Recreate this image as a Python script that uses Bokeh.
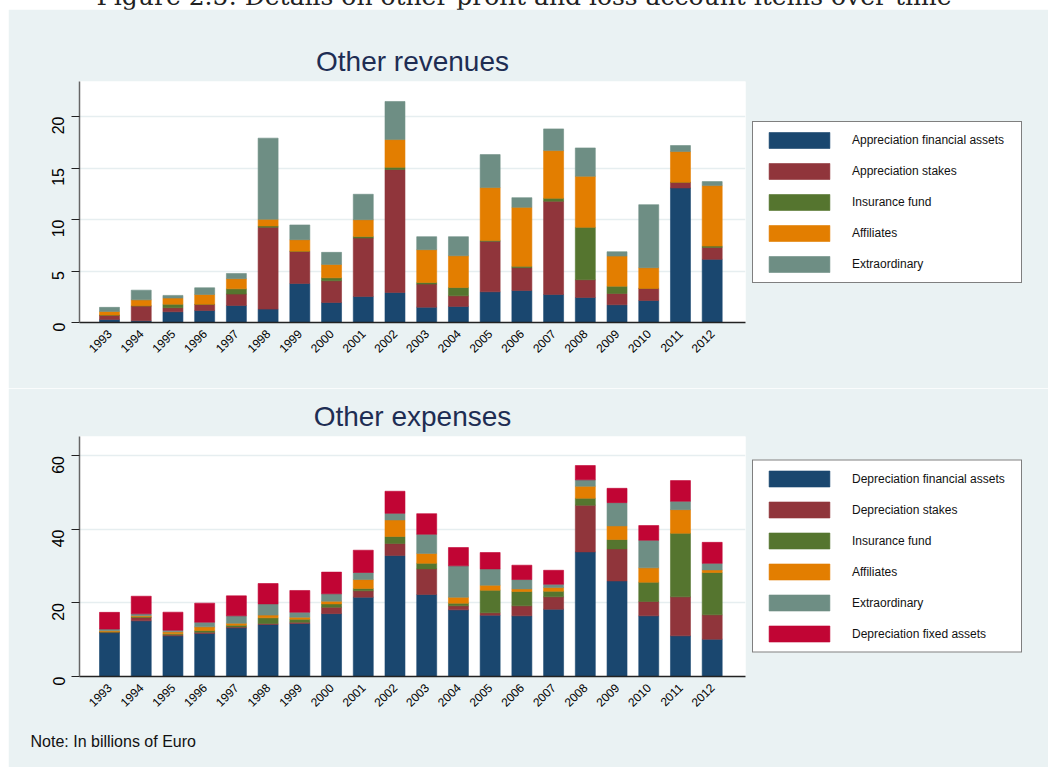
import math
from bokeh.plotting import figure
from bokeh.models import (ColumnDataSource, Range1d, FixedTicker, Legend, LegendItem,
                          Title, Div)
from bokeh.layouts import column
from bokeh.embed import file_html
from bokeh.resources import INLINE

years = list(range(1993, 2013))

rev_labels = ["Appreciation financial assets", "Appreciation stakes", "Insurance fund",
              "Affiliates", "Extraordinary"]
rev_fin = [0.30, 0.16, 1.04, 1.17, 1.65, 1.30, 3.79, 1.94, 2.53, 2.92, 1.49, 1.56, 2.98, 3.11, 2.72, 2.43, 1.72, 2.14, 13.06, 6.13]
rev_stakes = [0.40, 1.46, 0.39, 0.58, 1.11, 7.94, 3.11, 2.11, 5.67, 11.93, 2.24, 1.03, 4.90, 2.21, 9.05, 1.72, 1.10, 1.17, 0.55, 1.16]
rev_ins = [0.02, 0.00, 0.35, 0.02, 0.51, 0.13, 0.03, 0.29, 0.16, 0.22, 0.16, 0.81, 0.09, 0.13, 0.29, 5.09, 0.71, 0.00, 0.00, 0.13]
rev_aff = [0.35, 0.58, 0.59, 0.95, 0.98, 0.65, 1.11, 1.30, 1.62, 2.69, 3.18, 3.08, 5.13, 5.73, 4.63, 4.96, 2.92, 2.01, 2.99, 5.87]
rev_extra = [0.40, 0.94, 0.26, 0.65, 0.51, 7.88, 1.43, 1.17, 2.47, 3.70, 1.26, 1.85, 3.20, 0.94, 2.11, 2.75, 0.42, 6.12, 0.58, 0.39]

exp_labels = ["Depreciation financial assets", "Depreciation stakes", "Insurance fund",
              "Affiliates", "Extraordinary", "Depreciation fixed assets"]
exp_fin = [11.90, 15.14, 11.06, 11.70, 13.24, 14.14, 14.40, 17.10, 21.58, 32.90, 22.30, 18.13, 16.68, 16.50, 18.31, 33.90, 26.00, 16.50, 11.06, 10.15]
exp_stakes = [0.15, 0.90, 0.27, 0.36, 0.26, 0.26, 0.38, 1.76, 1.72, 3.27, 6.98, 1.09, 0.64, 2.72, 3.36, 12.70, 8.70, 3.90, 10.61, 6.62]
exp_ins = [0.15, 0.20, 0.27, 0.45, 0.46, 1.56, 0.82, 0.90, 0.63, 1.91, 1.52, 0.73, 6.16, 3.90, 1.53, 1.90, 2.56, 5.26, 17.31, 11.52]
exp_aff = [0.25, 0.30, 0.55, 1.00, 0.54, 0.74, 0.54, 0.74, 2.45, 4.52, 2.70, 1.63, 1.36, 0.72, 1.00, 3.27, 3.72, 3.90, 6.42, 0.71]
exp_extra = [0.45, 0.50, 0.45, 1.28, 2.00, 3.06, 1.36, 2.00, 1.92, 1.80, 5.20, 8.52, 4.44, 2.54, 0.90, 1.73, 6.32, 7.52, 2.29, 1.80]
exp_fixed = [4.55, 4.80, 4.90, 5.17, 5.44, 5.54, 5.90, 5.90, 6.06, 6.00, 5.60, 4.99, 4.45, 3.90, 3.80, 3.90, 3.90, 3.99, 5.61, 5.70]

rev_ticks = [0, 5, 10, 15, 20]
exp_ticks = [0, 20, 40, 60]

colors = ["#1a476f", "#90353b", "#55752f", "#e37e00", "#6e8e84", "#c10534"]
BG = "#eaf2f3"
FONT = "Liberation Sans"
TITLE_COLOR = "#1e2d53"


def make_panel(title, labels, series, ticks, ymax, fheight, top, bottom):
    keys = ["s%d" % i for i in range(len(series))]
    data = {"year": years}
    for k, s in zip(keys, series):
        data[k] = s
    src = ColumnDataSource(data)
    p = figure(frame_width=666, frame_height=fheight, output_backend="svg",
               toolbar_location=None,
               x_range=Range1d(1992.054, 2013.05), y_range=Range1d(0, ymax),
               min_border_left=71, min_border_right=295,
               min_border_top=top, min_border_bottom=bottom)
    p.border_fill_color = BG
    p.background_fill_color = "white"
    p.outline_line_color = None
    rs = p.vbar_stack(keys, x="year", width=0.63, source=src,
                      fill_color=colors[:len(keys)], line_color=colors[:len(keys)],
                      line_width=0.6)
    items = [LegendItem(label=l, renderers=[r]) for l, r in zip(labels, rs)]
    leg = Legend(items=items, location="center_left", margin=7, padding=8,
                 spacing=11, glyph_width=76, glyph_height=20, label_standoff=15,
                 label_width=161, label_height=20, label_text_font=FONT,
                 label_text_font_size="12px", label_text_color="#111111",
                 border_line_color="black", border_line_width=1,
                 background_fill_color="white", background_fill_alpha=1.0)
    p.add_layout(leg, "right")

    p.title.text = title
    p.title.align = "center"
    p.title.text_font = FONT
    p.title.text_font_size = "28px"
    p.title.text_font_style = "normal"
    p.title.text_color = TITLE_COLOR

    p.xgrid.grid_line_color = None
    p.ygrid.grid_line_color = "#e6eef0"
    p.ygrid.grid_line_width = 1.5
    p.ygrid.ticker = FixedTicker(ticks=ticks)

    ya = p.yaxis[0]
    ya.ticker = FixedTicker(ticks=ticks)
    ya.major_label_orientation = math.pi / 2
    ya.major_tick_out = 8
    ya.major_tick_in = 0
    ya.minor_tick_out = 0
    ya.minor_tick_in = 0
    ya.axis_line_color = "#666666"
    ya.axis_line_width = 1.5
    ya.major_tick_line_color = "#222222"
    ya.major_label_text_font = FONT
    ya.major_label_text_font_size = "16px"
    ya.major_label_text_color = "black"
    ya.major_label_standoff = 13

    xa = p.xaxis[0]
    xa.ticker = FixedTicker(ticks=years)
    xa.major_label_orientation = math.pi / 4
    xa.major_tick_out = 0
    xa.major_tick_in = 0
    xa.minor_tick_out = 0
    xa.minor_tick_in = 0
    xa.axis_line_color = "#222222"
    xa.axis_line_width = 1.5
    xa.major_label_text_font = FONT
    xa.major_label_text_font_size = "12px"
    xa.major_label_text_color = "black"
    xa.major_label_standoff = 9
    return p


p1 = make_panel("Other revenues", rev_labels,
                [rev_fin, rev_stakes, rev_ins, rev_aff, rev_extra],
                rev_ticks, 23.4, 241, 72, 66)
p2 = make_panel("Other expenses", exp_labels,
                [exp_fin, exp_stakes, exp_ins, exp_aff, exp_extra, exp_fixed],
                exp_ticks, 65.3, 240, 48, 88)

note = Title(text="Note: In billions of Euro", align="left", offset=-49,
             text_font=FONT, text_font_size="16px", text_font_style="normal",
             text_color="#111111", standoff=35)
p2.add_layout(note, "below")

header = Div(text='<div style="position:relative; top:-18px; width:1032px; text-align:center; '
                  'white-space:nowrap; font-family:\'DejaVu Serif\'; font-size:25px; '
                  'line-height:29px; color:#222;">'
                  'Figure 2.5: Details on other profit and loss account items over time</div>',
             width=1032, height=9, margin=(0, 0, 0, 0), styles={"overflow": "visible"})

layout = column(header, p1, p2, spacing=0, margin=(0, 0, 0, 8))

open("out.html", "w").write(file_html(layout, INLINE))
